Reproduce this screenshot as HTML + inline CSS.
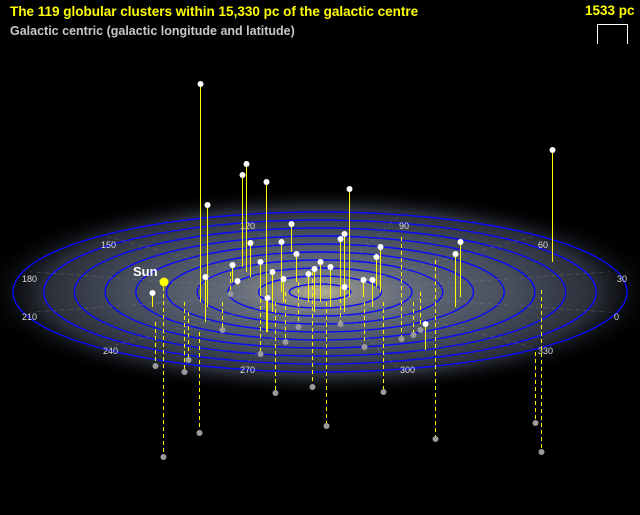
<!DOCTYPE html>
<html><head><meta charset="utf-8">
<style>
html,body{margin:0;padding:0;background:#000;}
#wrap{position:relative;width:640px;height:515px;overflow:hidden;background:#000;font-family:"Liberation Sans",sans-serif;}
.t{position:absolute;white-space:nowrap;}
</style></head>
<body>
<div id="wrap">
<svg id="svg" width="640" height="515" style="position:absolute;left:0;top:0">
<defs>
<radialGradient id="gal" cx="50%" cy="50%" r="50%">
<stop offset="0" stop-color="#bdb592"/>
<stop offset="0.08" stop-color="#8e8e88"/>
<stop offset="0.25" stop-color="#646b7a"/>
<stop offset="0.55" stop-color="#474e5d"/>
<stop offset="0.8" stop-color="#2a2e38"/>
<stop offset="1" stop-color="#000" stop-opacity="0"/>
</radialGradient>
</defs>
<ellipse cx="320" cy="292" rx="345" ry="105" fill="url(#gal)"/>
<g id="rings"></g><g id="grid"></g>
<g font-size="9" fill="#ddd" font-family="Liberation Sans, sans-serif">
<text x="614" y="320">0</text>
<text x="617" y="282">30</text>
<text x="538" y="248">60</text>
<text x="399" y="229">90</text>
<text x="240" y="229">120</text>
<text x="101" y="248">150</text>
<text x="22" y="282">180</text>
<text x="22" y="320">210</text>
<text x="103" y="354">240</text>
<text x="240" y="373">270</text>
<text x="400" y="373">300</text>
<text x="538" y="354">330</text>
</g>
<g id="marks"></g>
</svg>
<div class="t" style="left:10px;top:4px;color:#ffff00;font-weight:bold;font-size:13.5px;">The 119 globular clusters within 15,330 pc of the galactic centre</div>
<div class="t" style="left:10px;top:24px;color:#c8c8c8;font-weight:bold;font-size:12.5px;">Galactic centric (galactic longitude and latitude)</div>
<div class="t" style="left:585px;top:3px;color:#ffff00;font-weight:bold;font-size:13.5px;">1533 pc</div>
<div style="position:absolute;left:597px;top:24px;width:29px;height:19px;border:1px solid #fff;border-bottom:none;"></div>
<div class="t" style="left:133px;top:264px;color:#fff;font-weight:bold;font-size:13px;">Sun</div>
</div>
<script>
// Clusters: x (kpc, horizontal), d (kpc depth), h (kpc height, negative = below plane)
const upX=[-6.0,-5.65,-3.9,-3.7,-2.7,11.6,1.45,-1.45,7.0,6.75,3.0,2.8,1.2,1.0,-1.95,-1.2,-3.5,-4.4,-8.4,5.25,-4.15,-2.4,0,0.5,-0.6,2.15,-0.3,-5.75,-3.0,2.6,1.2,-2.65,-1.85];
const upD=[2,3,-5,-4,8,-6,1,-8,1,3,0,-1,2,0,0,-2,-3,-2,3,11.6,-1.4,4,2,3,2,1,4,6,0,3,4,8,2];
const upH=[10.9,5.1,4.6,5.4,7.5,5.6,5.4,1.4,2.75,2.65,2.25,1.5,3.4,2.65,2.5,1.4,1.7,0.85,0.7,1.3,0.2,2.0,2.0,2.0,1.4,0.85,2.15,2.25,1.5,1.35,1.25,1.7,1.15];
const dnX=[-7.85,-6.05,-8.25,-6.8,-6.6,-2.25,-0.4,0.3,3.15,5.75,11.05,10.75,4.65,4.05,-3.0,-4.9,-1.75,2.2,-1.1,5.0,-4.5,1.0];
const dnD=[-1,8,6,2,4,2,-4,2,2,-6.4,-0.4,12,2,-11,0,2,0,2,-2,0,-4,0];
const dnH=[-8.5,-5.05,-2.2,-3.5,-2.4,-4.55,-5.75,-6.2,-4.5,-8.95,-8.1,-3.55,-1.65,-5.1,-3.1,-1.4,-2.5,-2.25,-2.25,-1.9,-1.1,-1.6];
const ringRadii=[1,2,3,4,5,6,7,8,9,10];
const gridAngles=[-15,15,45,75,105,135,165,195,225,255,285,315];

const CX=320,CY=292,SX=20,SD=5,SH=20;
function px(x){return Math.round(CX+x*SX)+0.5;}
function py(d,h){return Math.round(CY+d*SD-h*SH);}
const NS="http://www.w3.org/2000/svg";
function mk(tag,attrs,parent){const e=document.createElementNS(NS,tag);for(const k in attrs)e.setAttribute(k,attrs[k]);parent.appendChild(e);return e;}
const rings=document.getElementById('rings');
ringRadii.forEach(r=>{
  const e=mk('ellipse',{cx:CX,cy:CY,rx:r*30.7,ry:r*8,fill:'none',stroke:'#0a0aff','stroke-width':1.4},rings);
  
  
});
const grid=document.getElementById('grid');
gridAngles.forEach(a0=>{
  const a=a0*Math.PI/180;
  const ln=mk('line',{x1:CX,y1:CY,x2:CX+Math.cos(a)*300,y2:CY-Math.sin(a)*78,stroke:'#999','stroke-width':0.6,'stroke-dasharray':'4,4',opacity:0.45},grid);
  
  
});
const marks=document.getElementById('marks');
dnX.forEach((x,i)=>{
  const bx=px(x),by=py(dnD[i],0),ty=py(dnD[i],dnH[i]);
  const l=mk('line',{x1:bx,y1:by,x2:bx,y2:ty,stroke:'#ffff00','stroke-width':1,'stroke-dasharray':'4,3','shape-rendering':'crispEdges'},marks);
  
  
  const c=mk('circle',{cx:bx,cy:ty,r:3,fill:'#9a9a9a'},marks);
  
  
});
upX.forEach((x,i)=>{
  const bx=px(x),by=py(upD[i],0),ty=py(upD[i],upH[i]);
  const l=mk('line',{x1:bx,y1:by,x2:bx,y2:ty,stroke:'#ffff00','stroke-width':1,'shape-rendering':'crispEdges'},marks);
  
  
  const c=mk('circle',{cx:bx,cy:ty,r:3,fill:'#fff'},marks);
  
  
});
const sun=mk('circle',{cx:164,cy:282,r:4.5,fill:'#ffff00'},marks);


</script>
</body></html>
